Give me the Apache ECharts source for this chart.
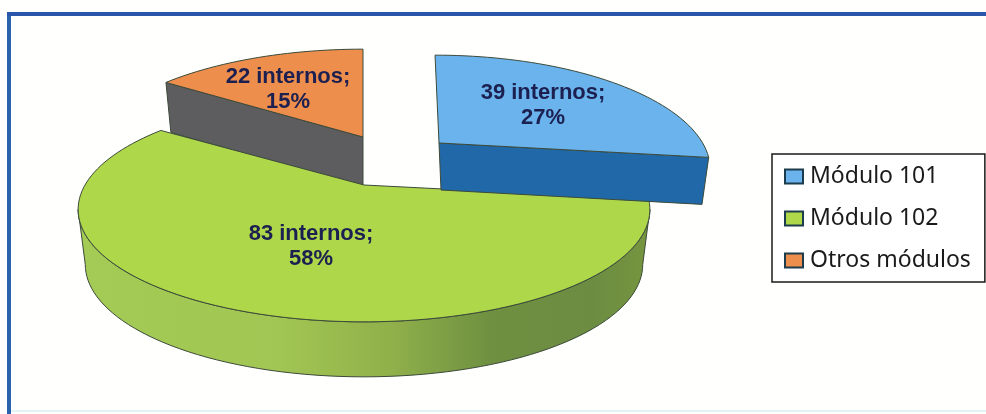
<!DOCTYPE html>
<html><head><meta charset="utf-8">
<style>html,body{margin:0;padding:0;background:#fff}#c{width:986px;height:414px}</style>
<script src="https://cdn.jsdelivr.net/npm/echarts@6/dist/echarts.min.js"></script>
</head><body><div id="c"></div>
<script>
const categories = ['Módulo 101', 'Módulo 102', 'Otros módulos'];
const values = [39, 83, 22];
const unitLabel = 'internos';

const topColors = ['#6ab3ec', '#aed74a', '#ee8e4c'];
// per-slice drawing style (explosion apex, horizontal scale, lean, side depth, label shift)
const sliceGeom = [
  {ax: 439, ay: 143, sx: 0.945, lean: 0.045, depth: 47, lx: 104, ly: -38},
  {ax: 364, ay: 185, sx: 1.00, lean: 0, depth: 55, lx: -53, ly: 61},
  {ax: 363, ay: 137, sx: 0.97, lean: 0, depth: 50, lx: -75, ly: -48}
];
const RX = 279, RY = 107, K = 0.218, BOTTOM_SX = 0.975;
const total = values.reduce((a, b) => a + b, 0);

function proj(g, deg, bottom) {
  const t = deg * Math.PI / 180, X = Math.sin(t), Y = Math.cos(t), w = 1 / (1 + K * Y);
  const bs = bottom ? BOTTOM_SX : 1, dy = -RY * Y * w;
  return [g.ax + RX * X * w * g.sx * bs + g.lean * dy, g.ay + dy + (bottom ? g.depth : 0)];
}
function arc(g, a, b, bottom) {
  const pts = [], n = Math.max(2, Math.ceil(Math.abs(b - a) / 2));
  for (let i = 0; i <= n; i++) pts.push(proj(g, a + (b - a) * i / n, bottom));
  return pts;
}
const EDGE = '#3c4a3a';
function poly(points, fill, z) {
  return {type: 'polygon', z2: z, shape: {points}, style: {fill, stroke: EDGE, lineWidth: 1, lineJoin: 'round'}};
}
function buildRender(idx) {
  return function (params, api) {
    const before = values.slice(0, idx).reduce((a, b) => a + b, 0);
    const start = before / total * 360, end = (before + api.value(0)) / total * 360;
    const g = sliceGeom[idx], apex = [g.ax, g.ay];
    const kids = [];
    if (idx === 0) {
      kids.push(poly([apex, proj(g, end), proj(g, end, true), [g.ax + 2, g.ay + g.depth]], '#2068a8', 1));
    } else if (idx === 1) {
      const a = 102.6, b = 257.4;
      const wall = arc(g, a, b).concat(arc(g, b, a, true));
      kids.push(poly(wall, {type: 'linear', x: 0, y: 0, x2: 1, y2: 0, colorStops: [
        {offset: 0, color: '#a3cb55'}, {offset: 0.35, color: '#a2c653'},
        {offset: 0.55, color: '#8fb04a'}, {offset: 0.72, color: '#6f9040'},
        {offset: 0.9, color: '#6c8c42'}, {offset: 1, color: '#76963f'}]}, 1));
    } else {
      kids.push(poly([apex, proj(g, start), proj(g, start, true), [g.ax, g.ay + g.depth]], '#5d5d60', 1));
    }
    kids.push(poly([apex].concat(arc(g, start, end)), api.visual('color'), 2));
    kids.push({type: 'text', z2: 5, style: {
      x: g.ax + g.lx, y: g.ay + g.ly,
      text: api.value(0) + ' ' + unitLabel + ';\n' + Math.round(api.value(0) / total * 100) + '%',
      align: 'center', verticalAlign: 'middle', fontFamily: '"Liberation Sans"',
      fontWeight: 'bold', fontSize: 22, lineHeight: 25, fill: '#1c2050'
    }});
    return {type: 'group', children: kids};
  };
}
const chart = echarts.init(document.getElementById('c'), null, {renderer: 'canvas'});
chart.setOption({
  animation: false,
  backgroundColor: '#fffffd',
  graphic: [
    {type: 'line', shape: {x1: 9, y1: 14, x2: 9, y2: 414}, style: {stroke: '#2a62ab', lineWidth: 4}},
    {type: 'line', shape: {x1: 7, y1: 14, x2: 986, y2: 14}, style: {stroke: '#2a55ab', lineWidth: 4}},
    {type: 'line', shape: {x1: 11, y1: 411, x2: 986, y2: 411}, style: {stroke: '#e4f3f6', lineWidth: 2}}
  ],
  legend: {
    orient: 'vertical', left: 772, top: 154, data: categories, selectedMode: false,
    backgroundColor: '#fff', borderColor: '#1a1a1a', borderWidth: 1.5, borderRadius: 0,
    padding: [11, 14, 10, 12], itemGap: 19, itemWidth: 18, itemHeight: 14, icon: 'rect',
    textStyle: {fontFamily: '"Noto Sans"', fontSize: 23, lineHeight: 22, color: '#1a1a1a', padding: [0, 0, 0, 2]}
  },
  series: categories.map((name, i) => ({
    type: 'custom', name, coordinateSystem: 'none', silent: true, z: i === 0 ? 4 : (i === 1 ? 3 : 2),
    itemStyle: {color: topColors[i], borderColor: '#1c3b4d', borderWidth: 1.5},
    renderItem: buildRender(i), data: [[values[i]]]
  }))
});
</script></body></html>
